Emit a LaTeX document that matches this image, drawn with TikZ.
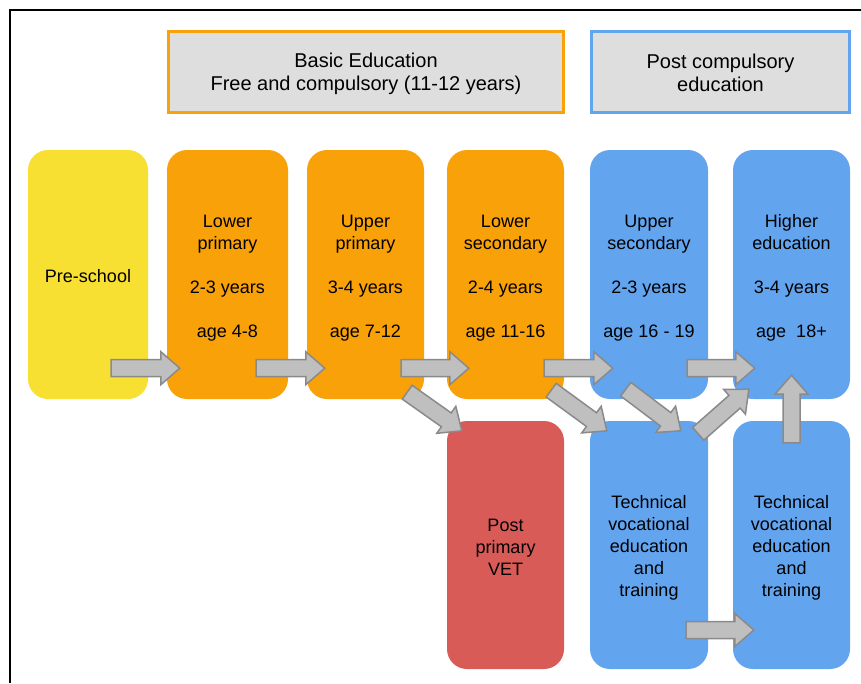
\documentclass[tikz,border=0pt]{standalone}
\usepackage{fontspec}
\setmainfont{Liberation Sans}
\usepackage{tikz}
\usetikzlibrary{
  calc,
  positioning
}
\definecolor{preyellow}{RGB}{248,224,50}
\definecolor{basicorange}{RGB}{249,161,8}
\definecolor{postblue}{RGB}{99,164,239}
\definecolor{vetred}{RGB}{217,91,88}
\definecolor{headgray}{RGB}{222,222,222}
\definecolor{arrowgray}{RGB}{191,191,191}
\definecolor{arrowedge}{RGB}{138,138,138}
% fixed line boxes, so the text sits like the original
\newcommand{\st}{\rule[-3pt]{0pt}{22pt}}
\newcommand{\hs}{\rule[-4pt]{0pt}{23pt}}
\tikzset{
  stagebox/.style={
    rounded corners=20pt,
    minimum height=249pt,
    inner sep=0pt,
    align=center,
    font=\fontsize{18pt}{22pt}\selectfont,
    execute at end node=\st
  },
  basicbox/.style={stagebox,fill=basicorange},
  postbox/.style={stagebox,fill=postblue},
  headbox/.style={
    draw,
    line width=3pt,
    fill=headgray,
    minimum height=81pt,
    inner sep=0pt,
    align=center,
    font=\fontsize{20pt}{23pt}\selectfont,
    execute at end node=\hs
  },
  blockarrow/.style={
    fill=arrowgray,
    draw=arrowedge,
    line width=1.5pt,
    to path={
      ($(\tikztostart)!8.5pt!90:(\tikztotarget)$)
      -- ($(\tikztotarget)!19pt!(\tikztostart)!8.5pt!-90:(\tikztostart)$)
      -- ($(\tikztotarget)!19pt!(\tikztostart)!16.5pt!-90:(\tikztostart)$)
      -- (\tikztotarget)
      -- ($(\tikztotarget)!19pt!(\tikztostart)!16.5pt!90:(\tikztostart)$)
      -- ($(\tikztotarget)!19pt!(\tikztostart)!8.5pt!90:(\tikztostart)$)
      -- ($(\tikztostart)!8.5pt!-90:(\tikztotarget)$)
      -- cycle
    }
  },
}

\begin{document}
\begin{tikzpicture}[x=1pt,y=-1pt]
  \useasboundingbox (0,0) rectangle (861,683);
  \draw[line width=2pt] (9.5,683) |- (861,9.5);

  % Header boxes
  \node[headbox,draw=basicorange,minimum width=395pt] (basic) at (366,72)
    {\hs Basic Education\\Free and compulsory (11-12 years)};
  \node[headbox,draw=postblue,minimum width=258pt] (post) at (720.5,72)
    {\hs Post compulsory\\education};

  % Stages, top row
  \node[stagebox,fill=preyellow,minimum width=120pt] (pre) at (88,274.5) {\st Pre-school};
  \node[basicbox,minimum width=121pt] (lowprim) at (227.5,274.5)
    {\st Lower\\primary\\[22pt]2-3 years\\[22pt]age 4-8};
  \node[basicbox,minimum width=117pt] (upprim) at (365.5,274.5)
    {\st Upper\\primary\\[22pt]3-4 years\\[22pt]age 7-12};
  \node[basicbox,minimum width=117pt] (lowsec) at (505.5,274.5)
    {\st Lower\\secondary\\[22pt]2-4 years\\[22pt]age 11-16};
  \node[postbox,minimum width=118pt] (upsec) at (649,274.5)
    {\st Upper\\secondary\\[22pt]2-3 years\\[22pt]age 16 - 19};
  \node[postbox,minimum width=117pt] (higher) at (791.5,274.5)
    {\st Higher\\education\\[22pt]3-4 years\\[22pt]age\ \ 18+};

  % Stages, bottom row
  \node[stagebox,fill=vetred,minimum width=117pt,minimum height=248pt] (ppvet) at (505.5,545)
    {\st Post\\primary\\VET};
  \node[postbox,minimum width=118pt,minimum height=248pt] (tvetone) at (649,545)
    {\st Technical\\vocational\\education\\and\\training};
  \node[postbox,minimum width=117pt,minimum height=248pt] (tvettwo) at (791.5,545)
    {\st Technical\\vocational\\education\\and\\training};

  % Block arrows
  \path[blockarrow] ([shift={(-37,-31)}]pre.south east) to ([shift={(13,-31)}]lowprim.south west);
  \path[blockarrow] ([shift={(-32,-31)}]lowprim.south east) to ([shift={(18,-31)}]upprim.south west);
  \path[blockarrow] ([shift={(-23,-31)}]upprim.south east) to ([shift={(22,-31)}]lowsec.south west);
  \path[blockarrow] ([shift={(-20,-31)}]lowsec.south east) to ([shift={(23,-31)}]upsec.south west);
  \path[blockarrow] ([shift={(-21,-31)}]upsec.south east) to ([shift={(22,-31)}]higher.south west);
  \path[blockarrow] ([shift={(-17,-7)}]upprim.south east) to ([shift={(15,10)}]ppvet.north west);
  \path[blockarrow] ([shift={(-13,-9)}]lowsec.south east) to ([shift={(17,10)}]tvetone.north west);
  \path[blockarrow] ([shift={(36,-10)}]upsec.south west) to ([shift={(91,10)}]tvetone.north west);
  \path[blockarrow] ([shift={(-10,13)}]tvetone.north east) to ([shift={(16,-10)}]higher.south west);
  \path[blockarrow] ([shift={(0,22)}]tvettwo.north) to ([shift={(0,-24)}]higher.south);
  \path[blockarrow] ([shift={(-22,85)}]tvetone.east) to ([shift={(21,85)}]tvettwo.west);
\end{tikzpicture}
\end{document}
